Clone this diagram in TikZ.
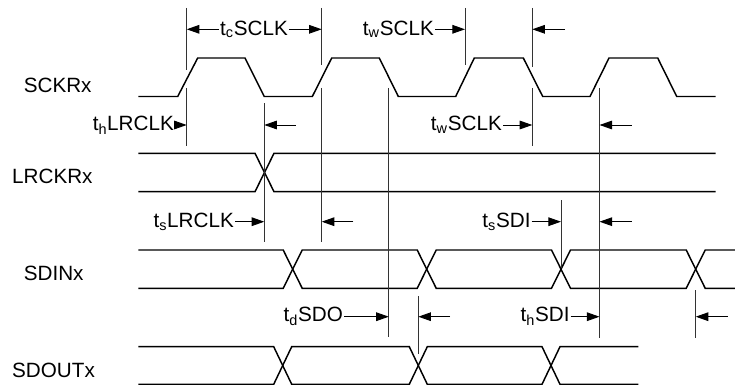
\documentclass[tikz,border=0pt]{standalone}
\usepackage{fontspec}
\setmainfont{Liberation Sans}
\usetikzlibrary{arrows.meta}

\tikzset{every picture/.style={line width=0.75pt}}
\tikzset{
  wave/.style={line width=1.1pt, line join=miter},
  marker/.style={line width=0.55pt, color=black!80},
  dim/.style={line width=0.7pt, -{Triangle[length=9.5pt,width=6.5pt]}},
  sig/.style={font=\fontsize{15.5}{18}\selectfont, inner sep=0pt},
  lbl/.style={font=\fontsize{15.5}{18}\selectfont, inner sep=0.5pt},
}

\begin{document}
\begin{tikzpicture}[x=0.75pt,y=0.75pt,yscale=-1,xscale=1]
\useasboundingbox (0,0) rectangle (735,385);

% Signal names
\node[sig,anchor=west] (sckr) at (23.3,85) {SCKRx};
\node[sig,anchor=west] (lrckr) at (11.7,176.7) {LRCKRx};
\node[sig,anchor=west] (sdin) at (23.3,273.3) {SDINx};
\node[sig,anchor=west] (sdout) at (11.7,370) {SDOUTx};

% SCKRx
\draw[wave] (138.3,96.5) -- (177.7,96.5) -- (197.7,58) -- (245,58) -- (264.3,96.5) -- (312.3,96.5) -- (331.7,58) -- (379.3,58) -- (398.3,96.5) -- (455.7,96.5) -- (474.3,58) -- (523.3,58) -- (542.7,96.5) -- (590,96.5) -- (609,58) -- (657.7,58) -- (676.7,96.5) -- (715.7,96.5);

% LRCKRx
\draw[wave] (138.3,153.3) -- (255,153.3) -- (274,191.7) -- (715.7,191.7);
\draw[wave] (138.3,191.7) -- (255,191.7) -- (274,153.3) -- (715.7,153.3);

% SDINx
\draw[wave] (138.3,250) -- (283.2,250) -- (302.2,288.3) -- (417.2,288.3) -- (436.2,250) -- (551.5,250) -- (570.5,288.3) -- (686.2,288.3) -- (705.2,250) -- (735,250);
\draw[wave] (138.3,288.3) -- (283.2,288.3) -- (302.2,250) -- (417.2,250) -- (436.2,288.3) -- (551.5,288.3) -- (570.5,250) -- (686.2,250) -- (705.2,288.3) -- (735,288.3);

% SDOUTx
\draw[wave] (138.3,346.7) -- (273.7,346.7) -- (291.7,384.3) -- (409.3,384.3) -- (427.3,346.7) -- (542,346.7) -- (560,384.3) -- (638.3,384.3);
\draw[wave] (138.3,384.3) -- (273.7,384.3) -- (291.7,346.7) -- (409.3,346.7) -- (427.3,384.3) -- (542,384.3) -- (560,346.7) -- (638.3,346.7);

% Timing marks
\foreach \n/\x/\ya/\yb in {ma/186.7/8/70, mb/186.7/88/146, mc/321.7/8/65, md/321.7/88/242, me/264.3/103/242, mf/465/8/65, mg/532.3/8/67, mh/532.3/88/146, mi/388.8/88/337, mj/599.5/88/338, mk/561/200/268, ml/418.3/296/354, mm/695.7/290/338}
  {\coordinate (\n) at (\x,\ya); \draw[marker] (\n) -- (\x,\yb);}

% Row 1
\node[lbl] (tcsclk) at (254,29.3) {t\textsubscript{c}SCLK};
\draw[dim] (tcsclk) -- (tcsclk -| ma);
\draw[dim] (tcsclk) -- (tcsclk -| mc);
\node[lbl,anchor=east] (twsclk) at (435,29.3) {t\textsubscript{w}SCLK};
\draw[dim] (twsclk) -- (twsclk -| mf);
\coordinate (wa) at (565,29.3);
\draw[dim] (wa) -- (wa -| mg);

% Row 2
\node[lbl,anchor=east] (thlrclk) at (175,125) {t\textsubscript{h}LRCLK};
\draw[dim] (thlrclk) -- (thlrclk -| mb);
\coordinate (wb) at (295.7,125);
\draw[dim] (wb) -- (wb -| me);
\node[lbl,anchor=east] (twsclkb) at (503,125) {t\textsubscript{w}SCLK};
\draw[dim] (twsclkb) -- (twsclkb -| mh);
\coordinate (wc) at (631.7,125);
\draw[dim] (wc) -- (wc -| mj);

% Row 3
\node[lbl,anchor=east] (tslrclk) at (235,221.7) {t\textsubscript{s}LRCLK};
\draw[dim] (tslrclk) -- (tslrclk -| me);
\coordinate (wd) at (353.3,221.7);
\draw[dim] (wd) -- (wd -| md);
\node[lbl,anchor=east] (tssdi) at (531.7,221.7) {t\textsubscript{s}SDI};
\draw[dim] (tssdi) -- (tssdi -| mk);
\coordinate (we) at (631.7,221.7);
\draw[dim] (we) -- (we -| mj);

% Row 4
\node[lbl,anchor=east] (tdsdo) at (344,316.7) {t\textsubscript{d}SDO};
\draw[dim] (tdsdo) -- (tdsdo -| mi);
\coordinate (wf) at (450,316.7);
\draw[dim] (wf) -- (wf -| ml);
\node[lbl,anchor=east] (thsdi) at (570.7,316.7) {t\textsubscript{h}SDI};
\draw[dim] (thsdi) -- (thsdi -| mj);
\coordinate (wg) at (727.7,316.7);
\draw[dim] (wg) -- (wg -| mm);

\end{tikzpicture}
\end{document}
